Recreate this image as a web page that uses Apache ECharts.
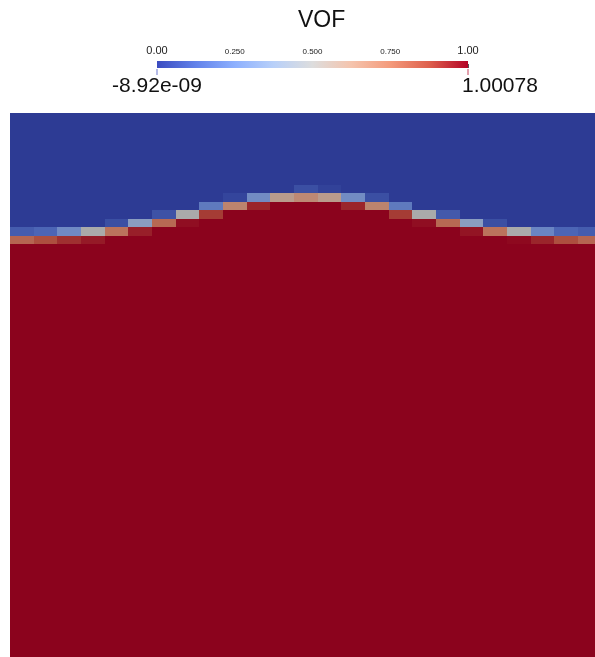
<!DOCTYPE html>
<html>
<head>
<meta charset="utf-8">
<title>VOF</title>
<script src="https://cdn.jsdelivr.net/npm/echarts@6/dist/echarts.min.js"></script>
<style>
html, body { margin: 0; padding: 0; background: #fff; }
#main { width: 595px; height: 657px; }
</style>
</head>
<body>
<div id="main"></div>
<script>
// VOF field: 25 cells across, rows counted from the top of the domain
var nCols = 25;
var nRows = 65;
var firstBandRow = 9;          // rows above are pure air (0), rows below the band pure water (1)
var airValue = 0;
var waterValue = 1;

// interface band, one list per row (rows 9..15)
var bandRows = [
  [0, 0, 0, 0, 0, 0, 0, 0, 0, 0, 0, 0, 0.06, 0.02, 0, 0, 0, 0, 0, 0, 0, 0, 0, 0, 0],
  [0, 0, 0, 0, 0, 0, 0, 0, 0, 0.03, 0.27, 0.6, 0.68, 0.6, 0.27, 0.06, 0, 0, 0, 0, 0, 0, 0, 0, 0],
  [0, 0, 0, 0, 0, 0, 0, 0, 0.2, 0.7, 0.94, 1, 1, 1, 0.94, 0.7, 0.2, 0, 0, 0, 0, 0, 0, 0, 0],
  [0, 0, 0, 0, 0, 0, 0.07, 0.5, 0.9, 1, 1, 1, 1, 1, 1, 1, 0.9, 0.5, 0.09, 0, 0, 0, 0, 0, 0],
  [0, 0, 0, 0, 0.06, 0.36, 0.79, 0.98, 1, 1, 1, 1, 1, 1, 1, 1, 1, 0.98, 0.79, 0.36, 0.06, 0, 0, 0, 0],
  [0.1, 0.13, 0.26, 0.5, 0.76, 0.95, 1, 1, 1, 1, 1, 1, 1, 1, 1, 1, 1, 1, 1, 0.97, 0.76, 0.5, 0.24, 0.13, 0.1],
  [0.8, 0.86, 0.92, 0.96, 1, 1, 1, 1, 1, 1, 1, 1, 1, 1, 1, 1, 1, 1, 1, 1, 1, 0.99, 0.94, 0.86, 0.8]
];

// colour bar
var tickValues = [0, 0.25, 0.5, 0.75, 1];
var tickLabels = ['0.00', '0.250', '0.500', '0.750', '1.00'];
var rangeMin = '-8.92e-09';
var rangeMax = '1.00078';

// cool to warm map, and the same map as it looks on the lit surface
var barColors = ['#3b4cc0', '#6282ea', '#8db0fe', '#b8d0f9', '#dddddd', '#f5c4ad', '#f49a7b', '#de604d', '#b40426'];
var cellColors = ['#2d3b94', '#4b64b4', '#6d88c4', '#8ea0c0', '#aaaaaa', '#bd9785', '#bc775f', '#ab4a3b', '#8b031d'];

var fieldData = [];
for (var r = 0; r < nRows; r++) {
    for (var c = 0; c < nCols; c++) {
        var v;
        if (r < firstBandRow) v = airValue;
        else if (r >= firstBandRow + bandRows.length) v = waterValue;
        else v = bandRows[r - firstBandRow][c];
        fieldData.push([c, r, v]);
    }
}

function renderCell(params, api) {
    var a = api.coord([api.value(0), api.value(1)]);
    var b = api.coord([api.value(0) + 1, api.value(1) + 1]);
    var x0 = Math.round(Math.min(a[0], b[0])), x1 = Math.round(Math.max(a[0], b[0]));
    var y0 = Math.round(Math.min(a[1], b[1])), y1 = Math.round(Math.max(a[1], b[1]));
    return {
        type: 'rect',
        shape: { x: x0, y: y0, width: x1 - x0, height: y1 - y0 },
        style: { fill: api.visual('color') }
    };
}

function renderBar(params, api) {
    var a = api.coord([api.value(0), api.value(1)]);
    var b = api.coord([api.value(2), api.value(3)]);
    var stops = barColors.map(function (col, i) {
        return { offset: i / (barColors.length - 1), color: col };
    });
    return {
        type: 'rect',
        shape: { x: a[0], y: b[1], width: b[0] - a[0], height: a[1] - b[1] },
        style: { fill: new echarts.graphic.LinearGradient(0, 0, 1, 0, stops) }
    };
}

var myChart = echarts.init(document.getElementById('main'));
var option = {
    animation: false,
    title: {
        text: 'VOF',
        left: 293,
        top: 4,
        textStyle: { fontFamily: 'Liberation Sans', fontSize: 23, fontWeight: 'normal', color: '#111' }
    },
    grid: [
        { left: 10, top: 113, right: 0, bottom: 0 },
        { left: 157, top: 61, width: 311, height: 7 }
    ],
    xAxis: [
        { gridIndex: 0, type: 'value', min: 0, max: 24.72, show: false },
        {
            gridIndex: 1, type: 'value', min: 0, max: 1, interval: 0.25, position: 'top',
            axisLine: { show: false },
            splitLine: { show: false },
            axisTick: { show: true, length: 4, lineStyle: { color: '#555', width: 1 } },
            minorTick: { show: true, splitNumber: 10, length: 4, lineStyle: { color: '#555', width: 1 } },
            axisLabel: {
                margin: 5,
                formatter: function (val) {
                    var i = tickValues.indexOf(val);
                    var t = i >= 0 ? tickLabels[i] : '';
                    return (val === 0 || val === 1) ? '{big|' + t + '}' : '{small|' + t + '}';
                },
                rich: {
                    big: { fontFamily: 'Liberation Sans', fontSize: 11, color: '#222' },
                    small: { fontFamily: 'Liberation Sans', fontSize: 8, color: '#222' }
                }
            }
        }
    ],
    yAxis: [
        { gridIndex: 0, type: 'value', min: 0.5, max: 64.88, inverse: true, show: false },
        { gridIndex: 1, type: 'value', min: 0, max: 1, show: false }
    ],
    visualMap: {
        type: 'continuous',
        show: false,
        min: 0,
        max: 1,
        dimension: 2,
        seriesIndex: 0,
        inRange: { color: cellColors }
    },
    series: [
        {
            type: 'custom',
            name: 'VOF',
            xAxisIndex: 0,
            yAxisIndex: 0,
            clip: true,
            renderItem: renderCell,
            encode: { x: 0, y: 1 },
            data: fieldData
        },
        {
            type: 'custom',
            name: 'colorbar',
            xAxisIndex: 1,
            yAxisIndex: 1,
            renderItem: renderBar,
            encode: { x: [0, 2], y: [1, 3] },
            data: [[0, 0, 1, 1]]
        }
    ],
    graphic: [
        { type: 'line', shape: { x1: 157, y1: 69, x2: 157, y2: 75 }, style: { stroke: barColors[0], opacity: 0.5, lineWidth: 1.5 } },
        { type: 'line', shape: { x1: 468, y1: 69, x2: 468, y2: 75 }, style: { stroke: barColors[8], opacity: 0.5, lineWidth: 1.5 } },
        {
            type: 'text', x: 157, y: 76,
            style: { text: rangeMin, align: 'center', font: '21px "Liberation Sans"', fill: '#111' }
        },
        {
            type: 'text', x: 462, y: 76,
            style: { text: rangeMax, align: 'left', font: '21px "Liberation Sans"', fill: '#111' }
        }
    ]
};
myChart.setOption(option);
</script>
</body>
</html>
